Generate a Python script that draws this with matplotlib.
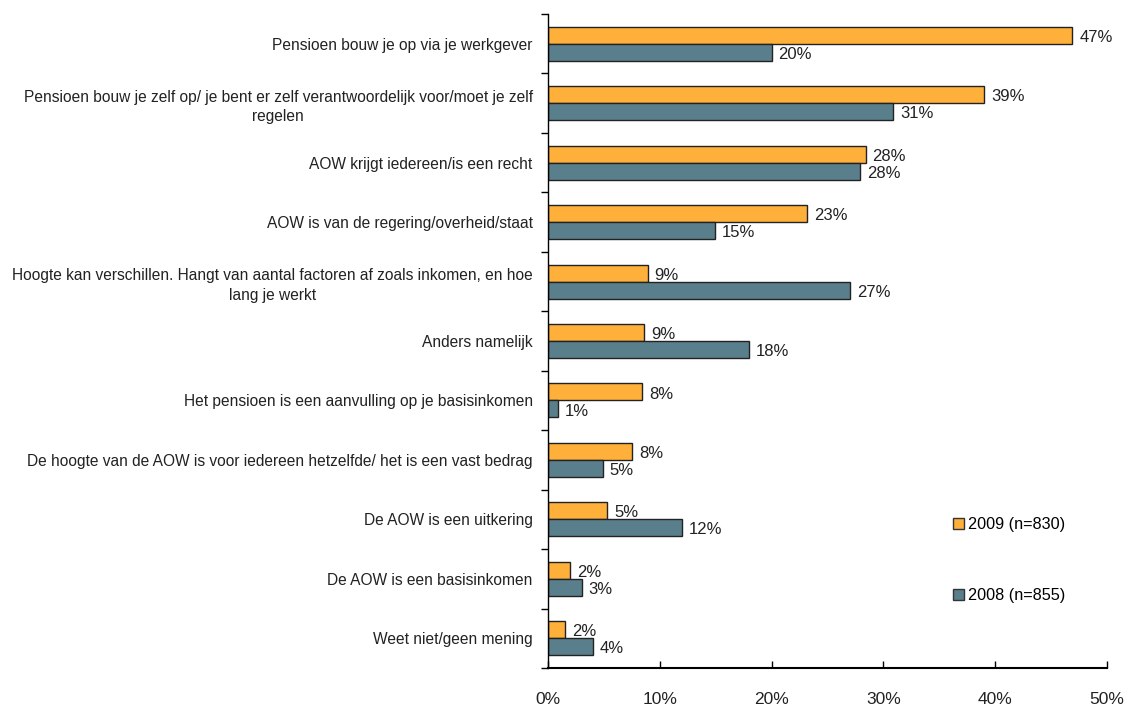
import matplotlib
matplotlib.use("Agg")
import matplotlib.pyplot as plt
from matplotlib.patches import Patch
from matplotlib.ticker import FixedLocator
from matplotlib import font_manager

names = {f.name for f in font_manager.fontManager.ttflist}
fam = ['Liberation Sans Narrow', 'DejaVu Sans'] if 'Liberation Sans Narrow' in names else ['Liberation Sans', 'DejaVu Sans']
plt.rcParams['font.family'] = fam

categories = [
    "Pensioen bouw je op via je werkgever",
    "Pensioen bouw je zelf op/ je bent er zelf verantwoordelijk voor/moet je zelf\nregelen",
    "AOW krijgt iedereen/is een recht",
    "AOW is van de regering/overheid/staat",
    "Hoogte kan verschillen. Hangt van aantal factoren af zoals inkomen, en hoe\nlang je werkt",
    "Anders namelijk",
    "Het pensioen is een aanvulling op je basisinkomen",
    "De hoogte van de AOW is voor iedereen hetzelfde/ het is een vast bedrag",
    "De AOW is een uitkering",
    "De AOW is een basisinkomen",
    "Weet niet/geen mening",
]
values_2009 = [46.9, 39.0, 28.4, 23.2, 8.9, 8.6, 8.4, 7.5, 5.3, 2.0, 1.5]
values_2008 = [20.0, 30.9, 27.9, 14.9, 27.0, 18.0, 0.9, 4.9, 12.0, 3.0, 4.0]
labels_2009 = ["47%", "39%", "28%", "23%", "9%", "9%", "8%", "8%", "5%", "2%", "2%"]
labels_2008 = ["20%", "31%", "28%", "15%", "27%", "18%", "1%", "5%", "12%", "3%", "4%"]
series_names = ["2009 (n=830)", "2008 (n=855)"]
xticks = [0, 10, 20, 30, 40, 50]
xtick_labels = ["0%", "10%", "20%", "30%", "40%", "50%"]

c2009 = "#FFB03B"
c2008 = "#5A7F8C"
tc = "#222222"

fig = plt.figure(figsize=(11.27, 7.11), dpi=100)
ax = fig.add_axes([548/1127, 1-668/711, (1107-548)/1127, (668-14)/711])

n = len(categories)
pos = list(range(n))
h = 0.286
ax.barh([p - h/2 for p in pos], values_2009, height=h, color=c2009, edgecolor=tc, linewidth=1.0)
ax.barh([p + h/2 for p in pos], values_2008, height=h, color=c2008, edgecolor=tc, linewidth=1.0)

for p, v, l in zip(pos, values_2009, labels_2009):
    ax.annotate(l, (v, p - h/2), xytext=(5, -1.5), textcoords="offset points",
                va="center", ha="left", fontsize=12, color=tc)
for p, v, l in zip(pos, values_2008, labels_2008):
    ax.annotate(l, (v, p + h/2), xytext=(5, -1.5), textcoords="offset points",
                va="center", ha="left", fontsize=12, color=tc)

ax.set_xlim(0, 50)
ax.set_ylim(n - 0.5, -0.5)
ax.set_yticks(pos)
ax.set_yticklabels(categories, fontsize=11.2, color=tc, multialignment="center", linespacing=1.4)
ax.yaxis.set_minor_locator(FixedLocator([i - 0.5 for i in range(n + 1)]))
ax.tick_params(axis="y", which="major", length=0, pad=11)
ax.tick_params(axis="y", which="minor", length=5, direction="out", width=1)
ax.set_xticks(xticks)
ax.set_xticklabels(xtick_labels, fontsize=12.5, color=tc)
ax.tick_params(axis="x", direction="in", length=5, width=1, pad=17)

for s in ["top", "right"]:
    ax.spines[s].set_visible(False)
ax.spines["left"].set_linewidth(1.0)
ax.spines["bottom"].set_linewidth(1.5)

handles = [Patch(facecolor=c2009, edgecolor="#333333", linewidth=1.0),
           Patch(facecolor=c2008, edgecolor="#333333", linewidth=1.0)]
fig.legend(handles, series_names, loc="upper left", bbox_to_anchor=(953/1127, 1-517/711),
           frameon=False, fontsize=11.7, handlelength=0.65, handleheight=0.65,
           handletextpad=0.3, labelspacing=3.45, borderpad=0, borderaxespad=0)

fig.savefig("out.png", dpi=100, facecolor="white")
